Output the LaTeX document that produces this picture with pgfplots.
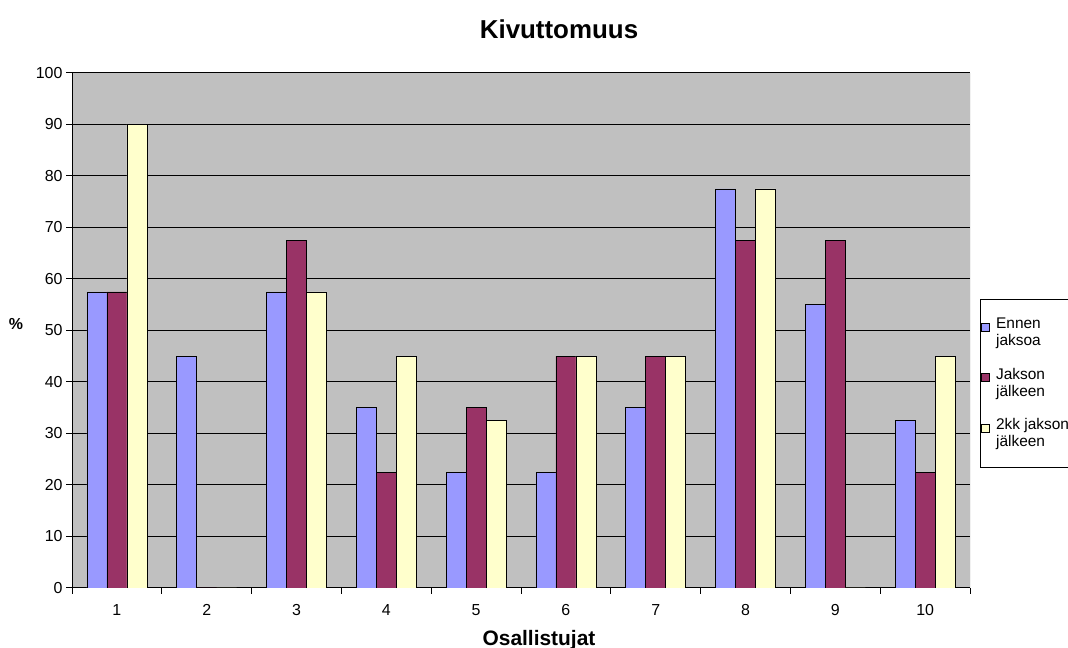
\documentclass[border=0pt]{standalone}
\usepackage{fontspec}
\setmainfont{Liberation Sans}
\usepackage{pgfplots}
\pgfplotsset{compat=1.18}
\definecolor{cA}{HTML}{9999FF}
\definecolor{cB}{HTML}{993366}
\definecolor{cC}{HTML}{FFFFCC}
\definecolor{bg}{HTML}{C0C0C0}
\begin{document}
\begin{tikzpicture}[x=1bp,y=1bp]
\useasboundingbox (0,0) rectangle (1068,648);
\clip (0,0) rectangle (1068,648);
\begin{axis}[
  at={(72bp,60bp)}, anchor=south west, scale only axis,
  width=898bp, height=515bp,
  xmin=0.5, xmax=10.5, ymin=0, ymax=100,
  ybar=0pt, bar width=20bp,
  axis background/.style={fill=bg},
  axis lines=left, axis line style={-, black, line width=1bp},
  xtick={0.5,1.5,...,10.5},
  xticklabels={1,2,3,4,5,6,7,8,9,10},
  x tick label as interval,
  ytick={0,10,...,100},
  tick align=outside, major tick length=6bp,
  tick style={black, line width=1bp},
  ymajorgrids, major grid style={black, line width=1bp},
  ticklabel style={font=\fontsize{16}{19}\selectfont},
  xticklabel style={yshift=-7bp},
  /pgf/number format/assume math mode=true,
  legend style={at={(rel axis cs:1.0111,0.562)}, anchor=north west,
    draw=black, line width=1bp, fill=white,
    font=\fontsize{15.5}{17}\selectfont,
    cells={anchor=west, align=left},
    row sep=17bp, inner xsep=1bp, inner ysep=17bp},
  legend image code/.code={\draw[#1, line width=0.6bp] (0bp,1.5bp) rectangle (8bp,9.5bp); \path (12bp,0bp);},
]
\addplot[fill=cA, draw=black, line width=0.7bp] coordinates {(1,57.5) (2,45) (3,57.5) (4,35) (5,22.5) (6,22.5) (7,35) (8,77.5) (9,55) (10,32.5)};
\addlegendentry{Ennen\\jaksoa}
\addplot[fill=cB, draw=black, line width=0.7bp] coordinates {(1,57.5) (2,0) (3,67.5) (4,22.5) (5,35) (6,45) (7,45) (8,67.5) (9,67.5) (10,22.5)};
\addlegendentry{Jakson\\jälkeen}
\addplot[fill=cC, draw=black, line width=0.7bp] coordinates {(1,90) (2,0) (3,57.5) (4,45) (5,32.5) (6,45) (7,45) (8,77.5) (9,0) (10,45)};
\addlegendentry{2kk jakson\\jälkeen}
\draw[black!45, line width=1bp] (rel axis cs:1,0) -- (rel axis cs:1,1);
\end{axis}
\node[font=\fontsize{26}{30}\selectfont\bfseries] at (559,619) {Kivuttomuus};
\node[font=\fontsize{21}{25}\selectfont\bfseries] at (539,8) {Osallistujat};
\node[font=\fontsize{16}{19}\selectfont\bfseries] at (16,324) {\%};
\end{tikzpicture}
\end{document}
